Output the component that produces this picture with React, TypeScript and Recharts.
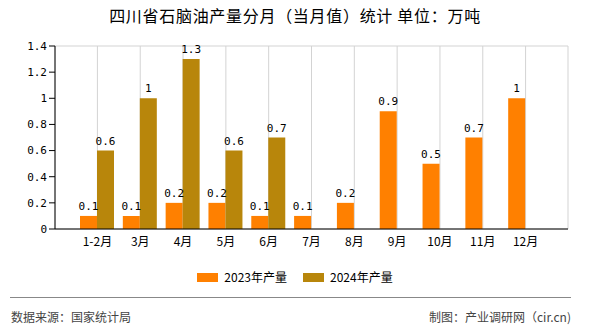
import React from 'react';
import {
  BarChart,
  Bar,
  XAxis,
  YAxis,
  CartesianGrid,
  LabelList,
} from 'recharts';

const months = ['1-2月', '3月', '4月', '5月', '6月', '7月', '8月', '9月', '10月', '11月', '12月'];
const output2023 = [0.1, 0.1, 0.2, 0.2, 0.1, 0.1, 0.2, 0.9, 0.5, 0.7, 1];
const output2024 = [0.6, 1, 1.3, 0.6, 0.7, null, null, null, null, null, null];
const yTicks = [0, 0.2, 0.4, 0.6, 0.8, 1, 1.2, 1.4];

const seriesNames = ['2023年产量', '2024年产量'];
const colors = ['#FF8000', '#B8860B'];

const data = months.map((m, i) => ({
  month: m,
  y2023: output2023[i],
  y2024: output2024[i],
}));

const cjk = '"Noto Sans CJK SC", "Noto Sans", sans-serif';
const mono = '"DejaVu Sans Mono", monospace';

// legend drawn as plain html so it doesn't shift the plot area
const ChartLegend = () => (
  <div
    style={{
      position: 'absolute',
      top: 268,
      left: 0,
      width: 590,
      display: 'flex',
      justifyContent: 'center',
      alignItems: 'center',
      gap: 16,
      fontSize: 12,
      color: '#000',
      lineHeight: '18px',
    }}
  >
    {seriesNames.map((name, i) => (
      <div key={name} style={{ display: 'flex', alignItems: 'center', gap: 6 }}>
        <div style={{ width: 21, height: 9, backgroundColor: colors[i] }} />
        <span>{name}</span>
      </div>
    ))}
  </div>
);

const fmt = (v: any) => (v == null ? '' : v);

export default function App() {
  return (
    <div
      style={{
        position: 'absolute',
        left: 0,
        top: 0,
        width: 590,
        height: 330,
        background: '#fff',
        fontFamily: cjk,
      }}
    >
      <div
        style={{
          position: 'absolute',
          top: 5,
          left: 0,
          width: 590,
          textAlign: 'center',
          fontSize: 16,
          letterSpacing: 0.7,
          color: '#000',
          lineHeight: '20px',
        }}
      >
        四川省石脑油产量分月（当月值）统计 单位：万吨
      </div>

      <BarChart
        width={590}
        height={330}
        data={data}
        margin={{ top: 46, right: 22, left: 10, bottom: 71 }}
        barGap={0}
        barSize={17}
      >
        <CartesianGrid stroke="#d3d3d3" />
        <XAxis
          dataKey="month"
          padding={{ left: 21, right: 21 }}
          axisLine={{ stroke: '#000' }}
          tickLine={false}
          tick={{ fill: '#000', fontSize: 12, fontFamily: cjk }}
          height={30}
          interval={0}
        />
        <YAxis
          yAxisId="left"
          domain={[0, 1.4]}
          ticks={yTicks}
          width={45}
          axisLine={{ stroke: '#000' }}
          tickLine={{ stroke: '#000' }}
          tickSize={6}
          tickMargin={2}
          tick={{ fill: '#000', fontSize: 11, fontFamily: mono }}
          interval={0}
        />
        <YAxis
          yAxisId="right"
          orientation="right"
          domain={[0, 1.4]}
          width={0}
          tick={false}
          tickLine={false}
          axisLine={{ stroke: '#d3d3d3' }}
        />
        <Bar yAxisId="left" dataKey="y2023" name={seriesNames[0]} fill={colors[0]} isAnimationActive={false}>
          <LabelList dataKey="y2023" position="top" offset={6} formatter={fmt} fill="#000" fontSize={11} fontFamily={mono} />
        </Bar>
        <Bar yAxisId="left" dataKey="y2024" name={seriesNames[1]} fill={colors[1]} isAnimationActive={false}>
          <LabelList dataKey="y2024" position="top" offset={6} formatter={fmt} fill="#000" fontSize={11} fontFamily={mono} />
        </Bar>
      </BarChart>

      <ChartLegend />

      <div
        style={{
          position: 'absolute',
          top: 297,
          left: 10,
          width: 561,
          height: 0,
          borderTop: '1px solid #888',
        }}
      />
      <div
        style={{
          position: 'absolute',
          top: 308,
          left: 11,
          fontSize: 12,
          color: '#444',
          lineHeight: '18px',
        }}
      >
        数据来源：国家统计局
      </div>
      <div
        style={{
          position: 'absolute',
          top: 308,
          right: 19,
          fontSize: 12,
          color: '#444',
          lineHeight: '18px',
        }}
      >
        制图：产业调研网（cir.cn)
      </div>
    </div>
  );
}
